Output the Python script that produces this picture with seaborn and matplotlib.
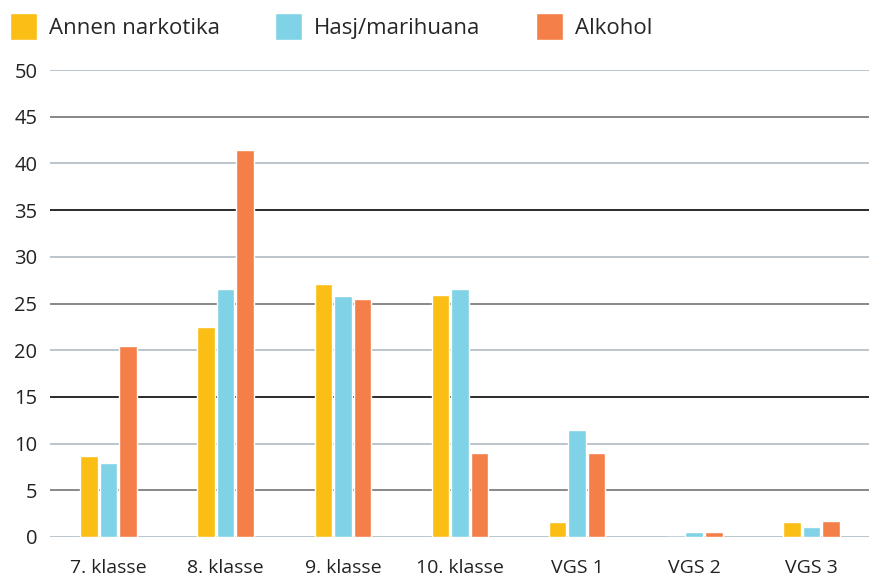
import matplotlib
matplotlib.use("Agg")
import matplotlib.pyplot as plt
import pandas as pd
import seaborn as sns

categories = ["7. klasse", "8. klasse", "9. klasse", "10. klasse", "VGS 1", "VGS 2", "VGS 3"]
series_names = ["Annen narkotika", "Hasj/marihuana", "Alkohol"]
annen_narkotika = [8.7, 22.5, 27.1, 25.9, 1.6, 0.0, 1.6]
hasj_marihuana = [7.95, 26.5, 25.8, 26.5, 11.5, 0.55, 1.1]
alkohol = [20.5, 41.4, 25.5, 9.0, 9.0, 0.55, 1.75]
colors = ["#FBBE14", "#80D2E6", "#F47F48"]
y_ticks = list(range(0, 55, 5))

rows = []
for name, vals in zip(series_names, [annen_narkotika, hasj_marihuana, alkohol]):
    for cat, v in zip(categories, vals):
        rows.append({"Klasse": cat, "Rusmiddel": name, "Prosent": v})
df = pd.DataFrame(rows)

sns.set_theme(style="white")
plt.rcParams["font.family"] = ["Open Sans", "DejaVu Sans"]

fig = plt.figure(figsize=(8.7, 5.76), dpi=100)
ax = fig.add_axes([50 / 870, 1 - 537 / 576, 820 / 870, 467 / 576])

sns.barplot(
    data=df,
    x="Klasse",
    y="Prosent",
    hue="Rusmiddel",
    order=categories,
    hue_order=series_names,
    palette=colors,
    saturation=1,
    width=0.5,
    gap=0.1,
    ax=ax,
    zorder=3,
)

# gridlines: alternating light / dark
for t in y_ticks:
    if t % 10 == 0:
        c = "#B7C0C8"
    elif t in (15, 35):
        c = "#1a1a1a"
    else:
        c = "#7f7f7f"
    ax.axhline(t, color=c, lw=1.3, zorder=1)

ax.set_ylim(0, 50)
ax.set_xlim(-0.5, len(categories) - 0.5)
ax.set_yticks(y_ticks)
ax.set_yticklabels([str(t) for t in y_ticks], fontsize=14.5, color="#222222")
ax.tick_params(axis="x", labelsize=14, labelcolor="#222222", pad=16, length=0)
ax.tick_params(axis="y", pad=9, length=0)
ax.set_xlabel("")
ax.set_ylabel("")
for s in ax.spines.values():
    s.set_visible(False)

handles, labels = ax.get_legend_handles_labels()
ax.get_legend().remove()
fig.legend(
    handles,
    labels,
    loc="upper left",
    bbox_to_anchor=(0.0, 0.995),
    ncol=3,
    frameon=False,
    fontsize=16,
    handlelength=1.2,
    handleheight=1.5,
    handletextpad=0.55,
    columnspacing=2.5,
    borderaxespad=0.0,
    borderpad=0.45,
)

fig.savefig("out.png", dpi=100)
